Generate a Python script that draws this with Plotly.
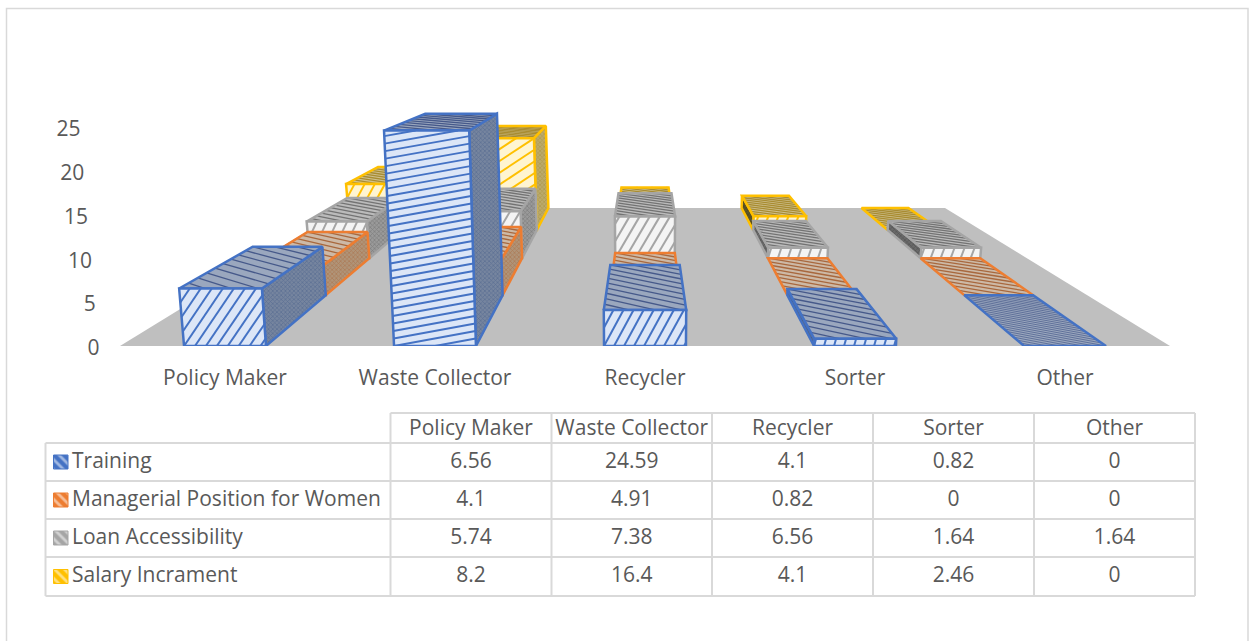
import plotly.graph_objects as go

categories = ["Policy Maker", "Waste Collector", "Recycler", "Sorter", "Other"]
series_names = ["Training", "Managerial Position for Women", "Loan Accessibility", "Salary Incrament"]
training = [6.56, 24.59, 4.1, 0.82, 0]
managerial = [4.1, 4.91, 0.82, 0, 0]
loan = [5.74, 7.38, 6.56, 1.64, 1.64]
salary = [8.2, 16.4, 4.1, 2.46, 0]
y_ticks = [0, 5, 10, 15, 20, 25]

series_values = [training, managerial, loan, salary]
edge = ["#4472C4", "#ED7D31", "#A5A5A5", "#FFC000"]
front_bg = ["#DCE6F7", "#FBE5D6", "#F4F4F4", "#FFF5D0"]
top_bg = ["#9AA7BE", "#CDB9A6", "#BBBBBB", "#CFC08E"]
top_fg = ["#46598A", "#A8683E", "#737373", "#A88C32"]
side_r_bg = ["#76859F", "#B09478", "#9A9A9A", "#BBAA6C"]
side_r_fg = ["#3F5787", "#A85F32", "#626262", "#A0872B"]
side_l_bg = ["#5A6A8A", "#8A6A50", "#6A6A6A", "#5E5628"]
side_l_fg = ["#3A4E78", "#7A4A28", "#3E3E3E", "#3C3618"]

PX_PER_UNIT = 8.76
BAR_HALF = 0.195
CENTER = 2.0
HORIZON = 36.76
K = 0.75
LEAN = 616.0
SLOT = 0.25
TEXT = "#595959"
FONT = "Open Sans"
FS = 21


def scale(d):
    return 1.0 / (1.0 + K * d)


def project(x, v, d):
    s = scale(d)
    lean_x = x + (x - CENTER) * v / LEAN
    return CENTER + (lean_x - CENTER) * s, HORIZON + (v - HORIZON) * s


def poly(points):
    xs, ys = zip(*[project(*p) for p in points])
    return list(xs) + [xs[0]], list(ys) + [ys[0]]


def plain(xs, ys, fill=None, line_color=None, width=2.5):
    return go.Scatter(
        x=xs, y=ys, mode="lines", fill="toself" if fill else None, fillcolor=fill,
        line=dict(color=line_color or "rgba(0,0,0,0)", width=width if line_color else 0),
        hoverinfo="skip", showlegend=False, xaxis="x", yaxis="y")


def side_face(points, bg, fg, line):
    xs, ys = poly(points)
    return go.Scatter(
        x=xs, y=ys, mode="lines", fill="toself", fillcolor=bg,
        fillpattern=dict(shape="x", fgcolor=fg, bgcolor=bg, size=3, solidity=0.4),
        line=dict(color=line, width=2.5), hoverinfo="skip", showlegend=False,
        xaxis="x", yaxis="y")


def front_hatch(x0, x1, val, d, color):
    s = scale(d)
    wpx = (x1 - x0) * 210 * s
    hpx = val * PX_PER_UNIT * s
    hp = max(10.0, 0.19 * hpx)
    vp = min(110.0 / hpx ** 0.5, 40.0)
    slope = vp / hp
    xs, ys = [], []
    n = -int(slope * wpx / vp) - 2
    while n * vp < hpx:
        offs = n * vp
        a0 = max(0.0, -offs / slope)
        a1 = min(wpx, (hpx - offs) / slope)
        if a1 > a0:
            for a in (a0, a1):
                b = slope * a + offs
                px, py = project(x0 + a / wpx * (x1 - x0), b / hpx * val, d)
                xs += [px]
                ys += [py]
            xs += [None]
            ys += [None]
        n += 1
    return plain(xs, ys, None, color, 2)


def top_hatch(x0, x1, val, d0, d1, color, count):
    drop = 0.35
    xs, ys = [], []
    for n in range(1, int(count * (1 + drop)) + 1):
        t = n / count
        u0 = max(0.0, (t - 1.0) / drop)
        u1 = min(1.0, t / drop)
        for u in (u0, u1):
            w = t - drop * u
            px, py = project(x0 + u * (x1 - x0), val, d0 + w * (d1 - d0))
            xs += [px]
            ys += [py]
        xs += [None]
        ys += [None]
    return plain(xs, ys, None, color, 1.3 if count < 12 else 0.7)


fig = go.Figure()

# floor
fx, fy = poly([(-0.5, 0, 0), (4.5, 0, 0), (4.5, 0, 1), (-0.5, 0, 1)])
fig.add_trace(plain(fx, fy, "#BFBFBF"))

# bars, back to front
for i in range(len(series_values) - 1, -1, -1):
    d0, d1 = i * SLOT, (i + 1) * SLOT
    for c, val in enumerate(series_values[i]):
        x0, x1 = c - BAR_HALF, c + BAR_HALF
        if x1 < CENTER and val > 0:
            fig.add_trace(side_face([(x1, 0, d0), (x1, 0, d1), (x1, val, d1), (x1, val, d0)],
                                    side_r_bg[i], side_r_fg[i], edge[i]))
        if x0 > CENTER and val > 0:
            fig.add_trace(side_face([(x0, 0, d0), (x0, 0, d1), (x0, val, d1), (x0, val, d0)],
                                    side_l_bg[i], side_l_fg[i], edge[i]))
        txs, tys = poly([(x0, val, d0), (x1, val, d0), (x1, val, d1), (x0, val, d1)])
        fig.add_trace(plain(txs, tys, top_bg[i]))
        fig.add_trace(top_hatch(x0, x1, val, d0, d1, top_fg[i], 20 if (val == 0 and c == 4 and i == 0) else 9))
        fig.add_trace(plain(txs, tys, None, edge[i]))
        if val > 0:
            xs, ys = poly([(x0, 0, d0), (x1, 0, d0), (x1, val, d0), (x0, val, d0)])
            fig.add_trace(plain(xs, ys, front_bg[i]))
            fig.add_trace(front_hatch(x0, x1, val, d0, edge[i]))
            fig.add_trace(plain(xs, ys, None, edge[i]))

# slanted value-axis labels (page-pixel axes)
fig.add_trace(go.Scatter(
    x=[99.5 - v * 0.76 for v in y_ticks], y=[350 - v * PX_PER_UNIT for v in y_ticks],
    mode="text", text=[str(v) for v in y_ticks], textposition="middle left",
    textfont=dict(family=FONT, size=FS, color=TEXT), cliponaxis=False,
    hoverinfo="skip", showlegend=False, xaxis="x2", yaxis="y2"))

# table in page-pixel axes
col_x = [390.5, 551.5, 712, 873, 1034, 1195]
row_y = [413, 443, 481, 519, 557, 596]
left_x = 45.5
gx, gy = [], []
for k, yy in enumerate(row_y):
    gx += [left_x if k > 0 else col_x[0], col_x[-1], None]
    gy += [yy, yy, None]
for xx in col_x:
    gx += [xx, xx, None]
    gy += [row_y[0], row_y[-1], None]
gx += [left_x, left_x, None]
gy += [row_y[1], row_y[-1], None]
fig.add_trace(go.Scatter(x=gx, y=gy, mode="lines", line=dict(color="#D9D9D9", width=2),
                         hoverinfo="skip", showlegend=False, xaxis="x2", yaxis="y2"))
# chart frame
fig.add_trace(go.Scatter(x=[6.5, 6.5, 1248, 1248], y=[641, 8.5, 8.5, 641], mode="lines",
                         line=dict(color="#D9D9D9", width=1.5),
                         hoverinfo="skip", showlegend=False, xaxis="x2", yaxis="y2"))

col_cx = [(col_x[j] + col_x[j + 1]) / 2 for j in range(len(categories))]
row_cy = [(row_y[r] + row_y[r + 1]) / 2 + 0.5 for r in range(len(row_y) - 1)]
fig.add_trace(go.Scatter(x=col_cx, y=[row_cy[0] + 1] * len(col_cx), mode="text", text=categories,
                         textposition="middle center", textfont=dict(family=FONT, size=FS, color=TEXT),
                         hoverinfo="skip", showlegend=False, xaxis="x2", yaxis="y2"))
for r, vals in enumerate(series_values):
    fig.add_trace(go.Scatter(x=col_cx, y=[row_cy[r + 1]] * len(col_cx), mode="text",
                             text=[str(v) for v in vals], textposition="middle center",
                             textfont=dict(family=FONT, size=FS, color=TEXT),
                             hoverinfo="skip", showlegend=False, xaxis="x2", yaxis="y2"))
    fig.add_trace(go.Scatter(x=[72], y=[row_cy[r + 1]], mode="text", text=[series_names[r]],
                             textposition="middle right", textfont=dict(family=FONT, size=FS, color=TEXT),
                             hoverinfo="skip", showlegend=False, xaxis="x2", yaxis="y2"))
    cy = row_cy[r + 1] - 0.5
    fig.add_trace(go.Scatter(x=[53.5, 68, 68, 53.5, 53.5], y=[cy - 7, cy - 7, cy + 7, cy + 7, cy - 7],
                             mode="lines", fill="toself", fillcolor=edge[r],
                             fillpattern=dict(shape="\\", fgcolor="#FFFFFF", bgcolor=edge[r], size=7, solidity=0.4),
                             line=dict(color=edge[r], width=1), hoverinfo="skip", showlegend=False,
                             xaxis="x2", yaxis="y2"))

W, H = 1249, 641
fig.update_layout(
    width=W, height=H, margin=dict(l=0, r=0, t=0, b=0), autosize=False,
    paper_bgcolor="white", plot_bgcolor="rgba(0,0,0,0)", showlegend=False,
    xaxis=dict(domain=[120 / W, 1170 / W], range=[-0.5, 4.5], tickvals=list(range(5)), ticktext=categories,
               showgrid=False, zeroline=False, showline=False, ticks="", anchor="y",
               tickfont=dict(family=FONT, size=FS, color=TEXT), ticklabelstandoff=17),
    yaxis=dict(domain=[(H - 346) / H, (H - 100) / H], range=[0, 246 / PX_PER_UNIT], showgrid=False,
               zeroline=False, showline=False, showticklabels=False, ticks="", anchor="x",
               tickvals=y_ticks),
    xaxis2=dict(domain=[0, 1], range=[0, W], visible=False, anchor="y2"),
    yaxis2=dict(domain=[0, 1], range=[H, 0], visible=False, anchor="x2"),
)
fig.write_html("out.html", config=dict(displayModeBar=False),
               post_script="document.body.style.margin='0';")
